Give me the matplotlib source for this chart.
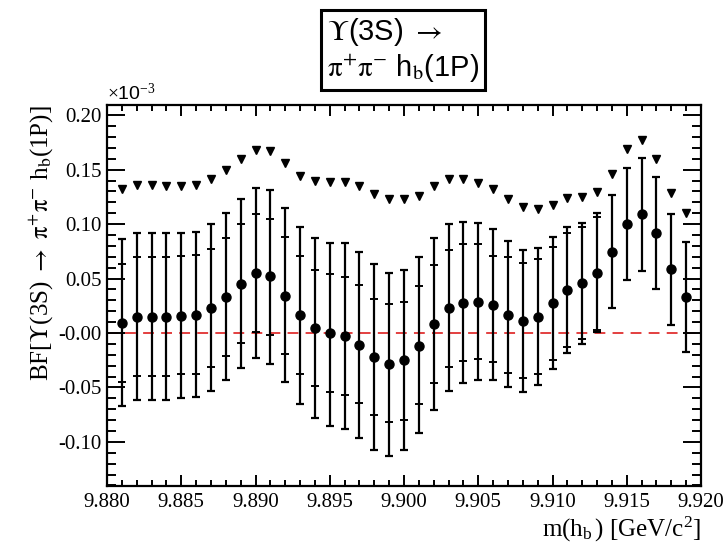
import numpy as np
import matplotlib
matplotlib.use("Agg")
import matplotlib.pyplot as plt
from matplotlib.ticker import MultipleLocator

plt.rcParams["mathtext.fontset"] = "custom"
plt.rcParams["mathtext.rm"] = "Liberation Serif"
plt.rcParams["mathtext.sf"] = "Liberation Sans"
plt.rcParams["mathtext.it"] = "Liberation Serif:italic"

# m(h_b) in GeV/c^2
mass = [9.881, 9.882, 9.883, 9.884, 9.885, 9.886, 9.887, 9.888, 9.889, 9.890,
        9.891, 9.892, 9.893, 9.894, 9.895, 9.896, 9.897, 9.898, 9.899, 9.900,
        9.901, 9.902, 9.903, 9.904, 9.905, 9.906, 9.907, 9.908, 9.909, 9.910,
        9.911, 9.912, 9.913, 9.914, 9.915, 9.916, 9.917, 9.918, 9.919]

# central BF values (x 1e-3)
bf = [0.0095, 0.015, 0.015, 0.0148, 0.0156, 0.0165, 0.0233, 0.0334, 0.0453, 0.0551,
      0.052, 0.0343, 0.0162, 0.0043, 0.000, -0.003, -0.0107, -0.0217, -0.0285, -0.0248,
      -0.0116, 0.0083, 0.0227, 0.0278, 0.0285, 0.026, 0.0165, 0.0113, 0.015, 0.0273,
      0.0395, 0.0456, 0.0548, 0.0747, 0.100, 0.109, 0.0915, 0.0585, 0.0333]

# total error band edges
tot_hi = [0.086, 0.0915, 0.0915, 0.0915, 0.092, 0.0927, 0.0998, 0.1105, 0.123, 0.133,
          0.131, 0.115, 0.097, 0.0876, 0.083, 0.083, 0.0747, 0.063, 0.0554, 0.058,
          0.0695, 0.0876, 0.0998, 0.102, 0.101, 0.0958, 0.0845, 0.076, 0.0778, 0.088,
          0.0976, 0.101, 0.110, 0.127, 0.152, 0.161, 0.143, 0.109, 0.0838]
tot_lo = [-0.067, -0.0615, -0.0615, -0.0615, -0.060, -0.0585, -0.053, -0.043, -0.032, -0.0227,
          -0.028, -0.0447, -0.0655, -0.078, -0.085, -0.088, -0.096, -0.1075, -0.113, -0.1075,
          -0.0915, -0.0707, -0.053, -0.046, -0.043, -0.043, -0.050, -0.0545, -0.0478, -0.0334,
          -0.0187, -0.0101, 0.0012, 0.0227, 0.0487, 0.0572, 0.040, 0.0073, -0.0172]

# statistical error edges (inner ticks)
stat_hi = [0.063, 0.0695, 0.0695, 0.0695, 0.0707, 0.072, 0.0774, 0.0876, 0.0998, 0.109,
           0.105, 0.0885, 0.071, 0.058, 0.054, 0.051, 0.044, 0.0315, 0.0263, 0.0288,
           0.043, 0.0627, 0.076, 0.0814, 0.0814, 0.0707, 0.0698, 0.064, 0.0677, 0.0792,
           0.0915, 0.0976, 0.1062, 0.127, 0.152, 0.161, 0.143, 0.109, 0.0838]
stat_lo = [-0.045, -0.0395, -0.0395, -0.0395, -0.038, -0.038, -0.031, -0.021, -0.0089, 0.001,
           -0.002, -0.0196, -0.038, -0.0487, -0.0545, -0.057, -0.064, -0.075, -0.082, -0.080,
           -0.065, -0.046, -0.031, -0.0254, -0.0239, -0.0263, -0.0364, -0.0416, -0.038, -0.0248,
           -0.0129, -0.0055, 0.0028, 0.0227, 0.0487, 0.0572, 0.040, 0.0073, -0.0172]

# upper limits
upper_limit = [0.132, 0.136, 0.136, 0.135, 0.135, 0.136, 0.141, 0.150, 0.1595, 0.168,
               0.167, 0.156, 0.144, 0.1396, 0.139, 0.139, 0.135, 0.1276, 0.1228, 0.1228,
               0.126, 0.135, 0.1414, 0.1414, 0.138, 0.1325, 0.123, 0.1154, 0.1136, 0.118,
               0.1237, 0.1252, 0.1298, 0.146, 0.1687, 0.177, 0.1595, 0.129, 0.110]

y_ticks = [-0.10, -0.05, 0.0, 0.05, 0.10, 0.15, 0.20]
y_labels = ["-0.10", "-0.05", "-0.00", "0.05", "0.10", "0.15", "0.20"]
x_ticks = [9.880, 9.885, 9.890, 9.895, 9.900, 9.905, 9.910, 9.915, 9.920]
x_labels = ["9.880", "9.885", "9.890", "9.895", "9.900", "9.905", "9.910", "9.915", "9.920"]

m = np.array(mass)
y = np.array(bf)
err_tot = [y - np.array(tot_lo), np.array(tot_hi) - y]
err_stat = [y - np.array(stat_lo), np.array(stat_hi) - y]

fig = plt.figure(figsize=(7.26, 5.53), dpi=100)
ax = fig.add_axes([107 / 726, 67 / 553, 594 / 726, 381 / 553])

ax.axhline(0.0, color="#e03030", ls=(0, (6, 4)), lw=1.3, zorder=1)

ax.errorbar(m, y, yerr=err_tot, fmt="none", ecolor="black", elinewidth=1.6,
            capsize=3, capthick=1.6, zorder=3)
ax.errorbar(m, y, yerr=err_stat, fmt="none", ecolor="black", elinewidth=0,
            capsize=3, capthick=1.4, zorder=3)
ax.plot(m, y, "o", color="black", ms=6.5, zorder=4)
ax.plot(m, upper_limit, "v", color="black", ms=5.5, zorder=4)

ax.set_xlim(9.880, 9.920)
ax.set_ylim(-0.1405, 0.2094)

ax.set_xticks(x_ticks)
ax.set_xticklabels(x_labels)
ax.set_yticks(y_ticks)
ax.set_yticklabels(y_labels)
ax.xaxis.set_minor_locator(MultipleLocator(0.001))
ax.yaxis.set_minor_locator(MultipleLocator(0.01))

for lab in ax.get_xticklabels() + ax.get_yticklabels():
    lab.set_family("Liberation Serif")
    lab.set_fontsize(15)

ax.tick_params(axis="both", which="both", direction="in", top=True, right=True,
               width=1.4, colors="black")
ax.tick_params(axis="y", which="major", length=13, pad=4)
ax.tick_params(axis="y", which="minor", length=6.5)
ax.tick_params(axis="x", which="major", length=8, pad=5)
ax.tick_params(axis="x", which="minor", length=4.3)
for sp in ax.spines.values():
    sp.set_linewidth(1.6)

ax.set_xlabel(r"m(h$_{\mathrm{b}}\,$) [GeV/c$^{2}$]", family="Liberation Serif",
              fontsize=18, loc="right", labelpad=2)
ax.set_ylabel(r"BF[$\Upsilon$(3S) $\rightarrow$ $\mathrm{\pi^{+}\pi^{-}}$ h$_{\mathrm{b}}$(1P)]",
              family="Liberation Serif", math_fontfamily="stix", fontsize=18,
              loc="top", labelpad=2)

fig.text(107 / 726, 1 - 93 / 553, r"$\times$10$^{-3}$", family="Liberation Sans",
         fontsize=14, va="center", ha="left")

fig.text(403 / 726, 1 - 50 / 553,
         "$\\Upsilon$(3S) $\\rightarrow$\n" + r"$\mathrm{\pi^{+}\pi^{-}}$ h$_{\mathrm{b}}$(1P)",
         family="Liberation Sans", math_fontfamily="stix", fontsize=21,
         ha="center", va="center", multialignment="left",
         bbox=dict(boxstyle="square,pad=0.2", fc="white", ec="black", lw=2.2))

fig.savefig("out.png", dpi=100)
